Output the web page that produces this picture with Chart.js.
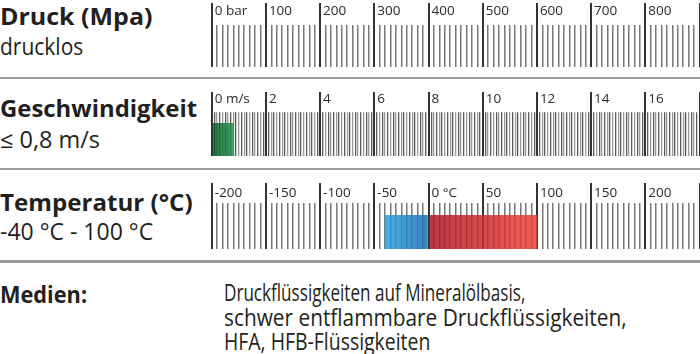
<!DOCTYPE html>
<html lang="de">
<head>
<meta charset="utf-8">
<title>Einsatzbereich</title>
<script src="https://cdn.jsdelivr.net/npm/chart.js@4.4.1/dist/chart.umd.min.js"></script>
<style>
  html, body { margin: 0; padding: 0; background: #fff; }
  #sheet { position: relative; width: 700px; height: 354px; overflow: hidden; font-family: 'Open Sans', sans-serif; color: #231f20; }
  .txt { position: absolute; white-space: nowrap; line-height: 1; transform-origin: 0 0; }
  .head { font-weight: 700; font-size: 24px; }
  .body { font-size: 23px; }
  .rule { position: absolute; left: 0; width: 700px; height: 2.5px; background: #9a9a9a; }
  canvas { position: absolute; left: 0; }
</style>
</head>
<body>
<div id="sheet">
  <div class="txt head" style="left:0;top:3.7px" data-w="152">Druck (Mpa)</div>
  <div class="txt body" style="left:0;top:34.6px" data-w="83">drucklos</div>
  <canvas id="pressureGauge" width="700" height="64" style="top:3px"></canvas>
  <div class="rule" style="top:76.5px"></div>

  <div class="txt head" style="left:0;top:96.4px" data-w="197">Geschwindigkeit</div>
  <div class="txt body" style="left:0;top:127.9px" data-w="100">≤ 0,8 m/s</div>
  <canvas id="speedGauge" width="700" height="64" style="top:92px"></canvas>
  <div class="rule" style="top:167.5px"></div>

  <div class="txt head" style="left:0;top:190.4px" data-w="193">Temperatur (°C)</div>
  <div class="txt body" style="left:0;top:219.6px" data-w="153">-40 °C - 100 °C</div>
  <canvas id="tempGauge" width="700" height="66" style="top:183px"></canvas>
  <div class="rule" style="top:260px"></div>

  <div class="txt head" style="left:0;top:281.7px" data-w="87">Medien:</div>
  <div class="txt body" style="left:224px;top:281.3px" data-w="301">Druckflüssigkeiten auf Mineralölbasis,</div>
  <div class="txt body" style="left:224px;top:306px" data-w="403">schwer entflammbare Druckflüssigkeiten,</div>
  <div class="txt body" style="left:224px;top:330px" data-w="206">HFA, HFB-Flüssigkeiten</div>
</div>
<script>
const pressureMajor = [0, 100, 200, 300, 400, 500, 600, 700, 800, 900];
const pressureLabels = ['0 bar', '100', '200', '300', '400', '500', '600', '700', '800', ''];
const pressureMinorStep = 10;

const speedMajor = [0, 2, 4, 6, 8, 10, 12, 14, 16, 18];
const speedLabels = ['0 m/s', '2', '4', '6', '8', '10', '12', '14', '16', ''];
const speedMinorStep = 0.1;
const speedRange = [0, 0.8];

const tempMajor = [-200, -150, -100, -50, 0, 50, 100, 150, 200, 250];
const tempLabels = ['-200', '-150', '-100', '-50', '0 °C', '50', '100', '150', '200', ''];
const tempMinorStep = 5;
const tempColdRange = [-40, 0];
const tempHotRange = [0, 100];

function buildTicks(major, step) {
  const first = major[0];
  const last = major[major.length - 1];
  const count = Math.round((last - first) / step);
  const values = [];
  for (let i = 0; i <= count; i++) {
    values.push(Number((first + i * step).toFixed(4)));
  }
  return values;
}

function barFill(bars) {
  return function (ctx) {
    const bar = bars[ctx.dataIndex];
    const chart = ctx.chart;
    if (!bar) return 'rgba(0,0,0,0)';
    if (!chart.chartArea) return bar.from;
    const xs = chart.scales.x;
    const g = chart.ctx.createLinearGradient(xs.getPixelForValue(bar.range[0]), 0, xs.getPixelForValue(bar.range[1]), 0);
    g.addColorStop(0, bar.from);
    g.addColorStop(1, bar.to);
    return g;
  };
}

// The chart area is the coloured band at the bottom of each gauge.
// Major ticks run from the top of the canvas, minor ticks start lower.
function renderGauge(canvasId, cfg) {
  const canvas = document.getElementById(canvasId);
  if (!canvas) return;

  const tickValues = buildTicks(cfg.major, cfg.step);
  const majorIndex = (v) => cfg.major.findIndex((m) => Math.abs(m - v) < 1e-6);
  const isMajor = (c) => c.tick && majorIndex(c.tick.value) >= 0;
  const minorColor = (c) => {
    if (!cfg.alternate) return cfg.minorColor;
    const i = Math.round((c.tick.value - cfg.major[0]) / cfg.step);
    return i % 2 ? cfg.minorColor : cfg.minorColor2;
  };
  const minorDash = [0, cfg.axisHeight - cfg.minorLength, cfg.minorLength, 0];

  new Chart(canvas, {
    type: 'bar',
    data: {
      labels: ['Bereich'],
      datasets: [
        {
          data: cfg.bars.map((bar) => ({ x: bar.range, y: 'Bereich' })),
          backgroundColor: barFill(cfg.bars),
          borderWidth: 0,
          barPercentage: 1,
          categoryPercentage: 1,
        },
      ],
    },
    options: {
      indexAxis: 'y',
      responsive: false,
      animation: false,
      devicePixelRatio: 1,
      layout: { padding: { left: 211.7, right: 0.5, top: 0, bottom: 0 } },
      plugins: {
        legend: { display: false },
        tooltip: { enabled: false },
      },
      scales: {
        x: {
          type: 'linear',
          position: 'top',
          min: cfg.major[0],
          max: cfg.major[cfg.major.length - 1],
          afterBuildTicks: (scale) => {
            scale.ticks = tickValues.map((v) => ({ value: v }));
          },
          afterFit: (scale) => {
            scale.height = cfg.axisHeight;
          },
          border: { display: false },
          grid: {
            drawTicks: true,
            tickLength: cfg.axisHeight,
            color: (c) => (isMajor(c) ? '#333333' : minorColor(c)),
            lineWidth: (c) => (isMajor(c) ? 2 : cfg.minorWidth),
            tickColor: (c) => (isMajor(c) ? '#333333' : minorColor(c)),
            tickWidth: (c) => (isMajor(c) ? 2 : cfg.minorWidth),
            tickBorderDash: (c) => (isMajor(c) ? [] : minorDash),
          },
          ticks: {
            autoSkip: false,
            maxRotation: 0,
            minRotation: 0,
            align: 'start',
            labelOffset: 3,
            padding: cfg.labelPadding,
            color: '#2a2a2a',
            font: { family: 'Open Sans', size: 13.5 },
            callback: (value) => {
              const i = majorIndex(value);
              return i < 0 ? '' : cfg.labels[i];
            },
          },
        },
        y: { type: 'category', display: false },
      },
    },
  });
}

function fitTexts() {
  document.querySelectorAll('.txt[data-w]').forEach((el) => {
    const w = el.offsetWidth;
    if (w > 0) el.style.transform = `scaleX(${Number(el.dataset.w) / w})`;
  });
}

function drawAll() {
  fitTexts();

  renderGauge('pressureGauge', {
    major: pressureMajor,
    labels: pressureLabels,
    step: pressureMinorStep,
    axisHeight: 42,
    minorLength: 20,
    labelPadding: -16.1,
    minorColor: '#777777',
    minorWidth: 1.5,
    bars: [],
  });

  renderGauge('speedGauge', {
    major: speedMajor,
    labels: speedLabels,
    step: speedMinorStep,
    axisHeight: 31,
    minorLength: 10.7,
    labelPadding: -15.4,
    minorColor: '#5c5c5c',
    minorColor2: '#9a9a9a',
    alternate: true,
    minorWidth: 1.3,
    bars: [
      { range: speedRange, from: 'rgba(14,84,38,0.85)', to: 'rgba(30,150,72,0.85)' },
    ],
  });

  renderGauge('tempGauge', {
    major: tempMajor,
    labels: tempLabels,
    step: tempMinorStep,
    axisHeight: 32,
    minorLength: 12,
    labelPadding: -17.8,
    minorColor: '#777777',
    minorWidth: 1.5,
    bars: [
      { range: tempColdRange, from: 'rgba(42,164,224,0.85)', to: 'rgba(24,108,178,0.85)' },
      { range: tempHotRange, from: 'rgba(172,22,40,0.85)', to: 'rgba(236,66,56,0.85)' },
    ],
  });
}

document.addEventListener('DOMContentLoaded', function () {
  if (typeof Chart === 'undefined') return;
  if (document.fonts && document.fonts.ready) {
    document.fonts.ready.then(drawAll);
  } else {
    drawAll();
  }
});
</script>
</body>
</html>
